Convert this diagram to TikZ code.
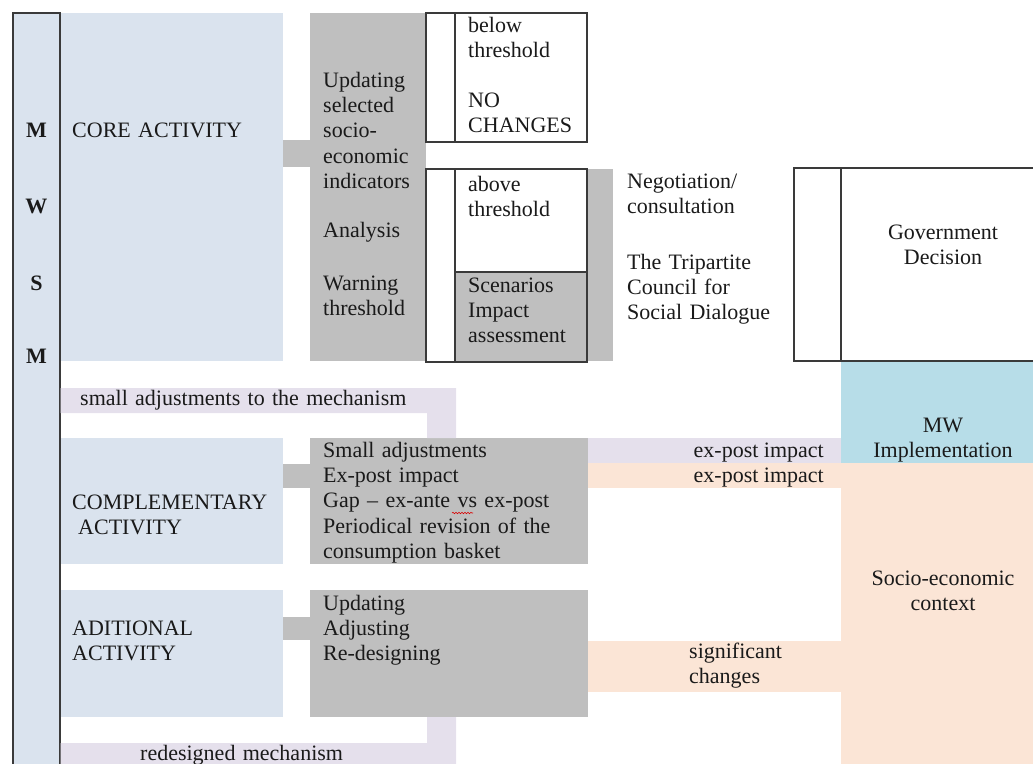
\documentclass[tikz,border=0pt]{standalone}
\usepackage{fontspec}
\setmainfont{Liberation Serif}
\usetikzlibrary{fit,decorations.pathmorphing}
\definecolor{paleblue}{HTML}{DAE3EE}
\definecolor{midgray}{HTML}{BFBFBF}
\definecolor{lavender}{HTML}{E5E0EC}
\definecolor{peach}{HTML}{FBE5D6}
\definecolor{tealblue}{HTML}{B7DDE8}
\definecolor{rulecol}{HTML}{3A3A3A}
\definecolor{inkcol}{HTML}{1A1A1A}
\begin{document}
\begin{tikzpicture}[x=1pt,y=-1pt,
  area/.style={inner sep=0pt, outer sep=0pt, draw=none},
  framed/.style={inner sep=0pt, outer sep=0pt, draw=rulecol, line width=1.1pt},
  divider/.style={draw=rulecol, line width=1.1pt},
  txt/.style={inner sep=0pt, text=inkcol, font=\fontsize{22}{25.4}\selectfont},
  lbl/.style={txt, anchor=base west, text width=#1, align=left},
  lbl/.default=420pt,
  clbl/.style={txt, anchor=base, text width=200pt, align=center},
  rlbl/.style={txt, anchor=base east},
  bar/.style={draw=#1, line cap=butt},
]
\useasboundingbox (0,0) rectangle (1033,763);

% ---- activity boxes (left column) ----
\node[area, fill=paleblue, fit={(60,13) (283,361)}] (core) {};
\node[area, fill=paleblue, fit={(60,438) (283,564)}] (comp) {};
\node[area, fill=paleblue, fit={(60,590) (283,717)}] (add) {};

% ---- MWSM side column ----
\node[framed, fill=paleblue, fit={(13,13) (60,780)}] (mwsm) {};

% ---- grey content boxes ----
\node[area, fill=midgray, fit={(310,13) (426,361)}] (ind) {};
\node[area, fill=midgray, fit={(310,438) (588,564)}] (compg) {};
\node[area, fill=midgray, fit={(310,590) (588,717)}] (addg) {};

% ---- threshold boxes ----
\node[framed, fill=white, fit={(426,13) (587,142)}] (below) {};
\draw[divider] ([xshift=29pt]below.north west) -- ([xshift=29pt]below.south west);
\node[area, fill=midgray, fit={(587,169) (613,361)}] (negbar) {};
\node[framed, fill=white, fit={(426,169) (587,362)}] (above) {};
\node[framed, fill=midgray, fit={(455,272) (587,362)}] (scen) {};
\draw[divider] ([xshift=29pt]above.north west) -- ([xshift=29pt]above.south west);

% ---- right side: decision, implementation, context ----
\node[area, fill=tealblue, fit={(841,361) (1045,463)}] (mw) {};
\node[area, fill=peach, fit={(841,463) (1045,780)}] (socio) {};
\node[framed, fill=white, fit={(794,168) (1045,361)}] (gov) {};
\draw[divider] (mw.north west |- gov.north) -- (mw.north west);

% ---- connectors between activities and their contents ----
\draw[bar=midgray, line width=27pt] (core.east |- 0,153.5) -- (ind.west |- 0,153.5);
\draw[bar=midgray, line width=24pt] (comp.east |- 0,476) -- (compg.west |- 0,476);
\draw[bar=midgray, line width=23pt] (add.east |- 0,628.5) -- (addg.west |- 0,628.5);

% ---- feedback flows ----
\draw[bar=lavender, line width=25pt] (compg.east |- 0,450.5) -- (mw.west |- 0,450.5);
\draw[bar=peach, line width=25pt] (compg.east |- 0,475.5) -- (socio.west |- 0,475.5);
\draw[bar=peach, line width=51pt] (addg.east |- 0,666.5) -- (socio.west |- 0,666.5);

% ---- loops back to the mechanism ----
\fill[lavender] ([xshift=0.6pt]mwsm.east |- 0,388) -- (456,388) -- (compg.north west -| 456,0)
  -- (compg.north west -| 427,0) -- (427,413) -- ([xshift=0.6pt]mwsm.east |- 0,413) -- cycle;
\fill[lavender] (addg.south west -| 427,0) -- (addg.south west -| 456,0) -- (456,780)
  -- ([xshift=0.6pt]mwsm.east |- 0,780) -- ([xshift=0.6pt]mwsm.east |- 0,743) -- (427,743) -- cycle;

% ---- MWSM letters ----
\node[clbl, font=\fontsize{22}{25.4}\selectfont\bfseries] (lm1) at (36.5,137) {M};
\node[clbl, font=\fontsize{22}{25.4}\selectfont\bfseries] (lw) at (36.5,213) {W};
\node[clbl, font=\fontsize{22}{25.4}\selectfont\bfseries] (ls) at (36.5,290) {S};
\node[clbl, font=\fontsize{22}{25.4}\selectfont\bfseries] (lm2) at (36.5,363) {M};

% ---- labels ----
\node[lbl] (tcore) at (72,137) {CORE ACTIVITY};
\node[lbl] (tind1) at (323,87) {Updating\\selected\\socio-\\economic\\indicators};
\node[lbl] (tind2) at (323,237) {Analysis};
\node[lbl] (tind3) at (323,290) {Warning\\threshold};
\node[lbl] (tbelow1) at (468,32) {below\\threshold};
\node[lbl] (tbelow2) at (468,107) {NO\\CHANGES};
\node[lbl] (tabove) at (468,191) {above\\threshold};
\node[lbl] (tscen) at (468,292) {Scenarios\\Impact\\assessment};
\node[lbl] (tneg1) at (627,188) {Negotiation/\\consultation};
\node[lbl] (tneg2) at (627,269) {The Tripartite\\Council for\\Social Dialogue};
\node[clbl] (tgov) at (943,239) {Government\\Decision};
\node[clbl] (tmw) at (943,432) {MW\\Implementation};
\node[clbl] (tsocio) at (943,585) {Socio-economic\\context};

\node[lbl] (tloop1) at (80,405) {small adjustments to the mechanism};
\node[lbl] (tloop2) at (140,760) {redesigned mechanism};

\node[lbl] (tcomp) at (72,509) {COMPLEMENTARY\\\hspace*{6pt}ACTIVITY};
\node[lbl] (tcompg) at (323,457) {Small adjustments\\Ex-post impact\\Gap -- ex-ante vs ex-post\\\makebox[252pt][s]{Periodical revision of the}\\consumption basket};
\node[lbl] (tadd) at (72,635) {ADITIONAL\\ACTIVITY};
\node[lbl] (taddg) at (323,610) {Updating\\Adjusting\\Re-designing};

\node[rlbl] (texp1) at (824,457) {ex-post impact};
\node[rlbl] (texp2) at (824,482) {ex-post impact};
\node[lbl] (tsig) at (689,658) {significant\\changes};

% spell-check mark under "vs"
\draw[red!85!black, line width=0.6pt, decorate,
  decoration={snake, amplitude=0.7pt, segment length=3pt}] (452,513) -- (473,513);
\end{tikzpicture}
\end{document}
